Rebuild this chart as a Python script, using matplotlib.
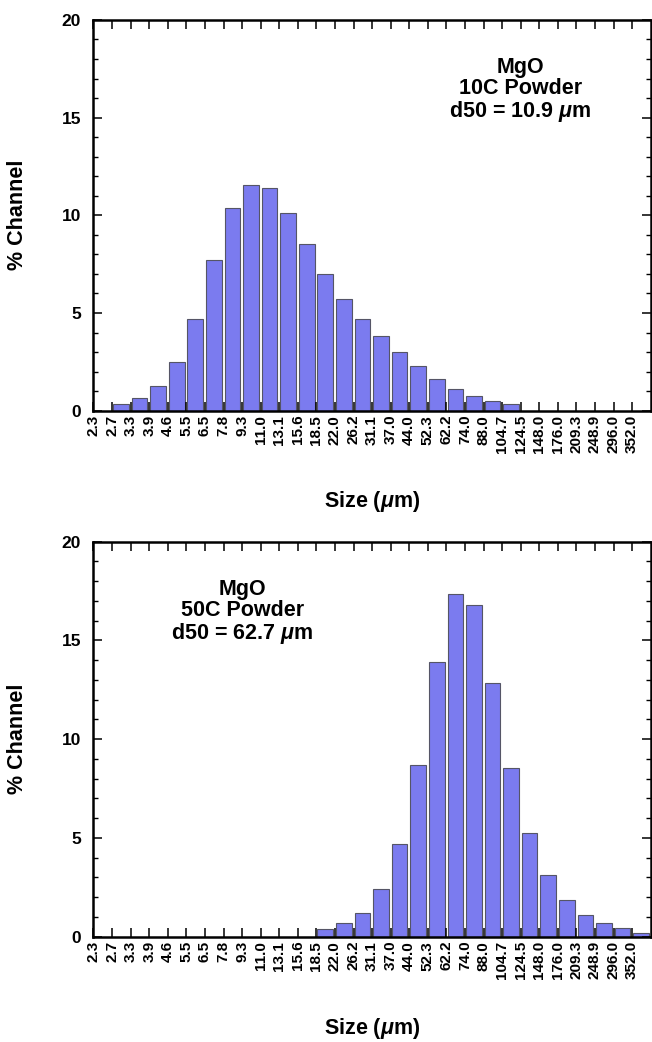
import matplotlib
matplotlib.use("Agg")
import matplotlib.pyplot as plt
from matplotlib.ticker import MultipleLocator

# bin edges (um) shown as tick labels
size_labels = ["2.3", "2.7", "3.3", "3.9", "4.6", "5.5", "6.5", "7.8", "9.3", "11.0",
               "13.1", "15.6", "18.5", "22.0", "26.2", "31.1", "37.0", "44.0", "52.3", "62.2",
               "74.0", "88.0", "104.7", "124.5", "148.0", "176.0", "209.3", "248.9", "296.0", "352.0"]

# % channel, one value per bin starting at the label of the same index
pct_10c = [0.0, 0.34, 0.63, 1.25, 2.51, 4.71, 7.70, 10.39, 11.57, 11.42,
           10.12, 8.53, 7.01, 5.73, 4.69, 3.81, 3.02, 2.27, 1.62, 1.11,
           0.73, 0.51, 0.34, 0.0, 0.0, 0.0, 0.0, 0.0, 0.0, 0.0]
pct_50c = [0.0, 0.0, 0.0, 0.0, 0.0, 0.0, 0.0, 0.0, 0.0, 0.0,
           0.0, 0.0, 0.37, 0.67, 1.21, 2.39, 4.67, 8.69, 13.90, 17.37,
           16.78, 12.87, 8.54, 5.26, 3.13, 1.85, 1.10, 0.71, 0.45, 0.17]

notes = ["MgO\n10C Powder\nd50 = 10.9 $\\mu$m",
         "MgO\n50C Powder\nd50 = 62.7 $\\mu$m"]

plt.rcParams['font.family'] = ['Liberation Sans', 'DejaVu Sans']
plt.rcParams['font.weight'] = 'bold'
plt.rcParams['mathtext.fontset'] = 'custom'
plt.rcParams['mathtext.rm'] = 'Liberation Sans:bold'
plt.rcParams['mathtext.it'] = 'Liberation Sans:italic:bold'

BAR_COLOR = "#7b7bef"

fig = plt.figure(figsize=(6.52, 10.42), dpi=100)
ax_top = fig.add_axes([0.1434, 0.6059, 0.8546, 0.375])
ax_bot = fig.add_axes([0.1434, 0.1011, 0.8546, 0.379])


def draw_panel(ax, values, note, note_xy):
    xs = [i + 0.48 for i, v in enumerate(values) if v > 0]
    hs = [v for v in values if v > 0]
    ax.bar(xs, hs, width=0.84, color=BAR_COLOR, edgecolor="#555566", linewidth=0.8)

    ax.set_xlim(0, len(size_labels))
    ax.set_ylim(0, 20)
    ax.set_xticks(range(len(size_labels)))
    ax.set_xticklabels(size_labels, rotation=90, fontweight='bold')
    ax.yaxis.set_major_locator(MultipleLocator(5))
    ax.yaxis.set_minor_locator(MultipleLocator(1))

    ax.tick_params(axis='x', which='major', direction='in', top=True, bottom=True,
                   length=6.3, width=1.1, pad=3, labelsize=11)
    ax.tick_params(axis='y', which='major', direction='in', left=True, right=True,
                   length=6.5, width=1.1, pad=9, labelsize=12.5)
    ax.tick_params(axis='y', which='minor', direction='in', left=True, right=True,
                   length=3.6, width=1.0)
    for lab in ax.get_yticklabels():
        lab.set_fontweight('bold')
    for sp in ax.spines.values():
        sp.set_linewidth(1.8)

    ax.set_ylabel("% Channel", fontsize=15.5, fontweight='bold')
    ax.yaxis.set_label_coords(-0.118, 0.5)
    ax.set_xlabel("Size ($\\mu$m)", fontsize=15.5, fontweight='bold', va='center')
    ax.xaxis.set_label_coords(0.5, -0.232)

    ax.text(note_xy[0], note_xy[1], note, transform=ax.transAxes, ha='center', va='center',
            fontsize=15.5, fontweight='bold', linespacing=1.0)


draw_panel(ax_top, pct_10c, notes[0], (0.766, 0.82))
draw_panel(ax_bot, pct_50c, notes[1], (0.267, 0.82))

fig.savefig("out.png", dpi=100)
